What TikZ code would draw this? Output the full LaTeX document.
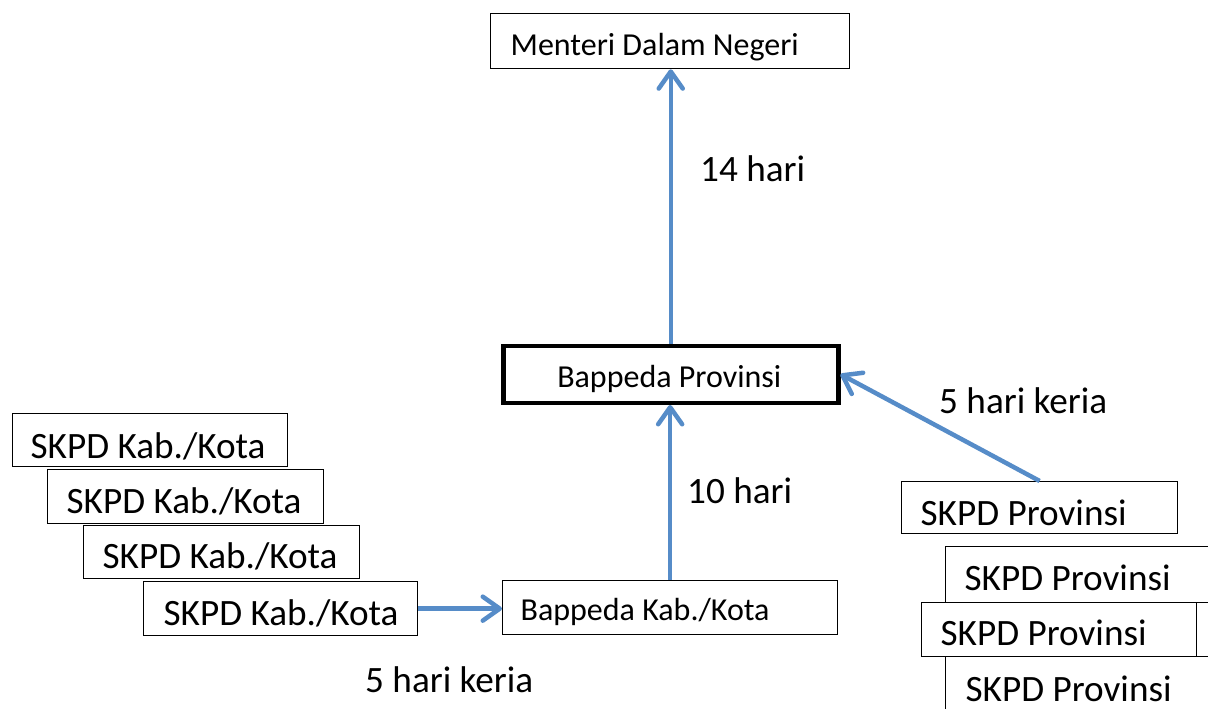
\documentclass[tikz,border=0pt]{standalone}
\usepackage{fontspec}
\setmainfont{Carlito}
\usetikzlibrary{arrows.meta}
\definecolor{arr}{RGB}{86,140,200}
\newcommand\bxt[3]{\makebox[#1pt][l]{\hspace{#2pt}#3}}
\begin{document}
\begin{tikzpicture}[x=1pt,y=-1pt,
  box/.style={draw=black, line width=1.3pt, fill=white, inner sep=0pt, anchor=north west},
  big/.style={font=\fontsize{37.2}{40}\selectfont},
  small/.style={font=\fontsize{32}{36}\selectfont},
  lbl/.style={big, inner sep=0pt, anchor=base west},
  flow/.style={draw=arr, line width=4.5pt, -{Straight Barb[length=17pt,width=24pt,round]}}]
\useasboundingbox (0,0) rectangle (1208,709);
\clip (0,0) rectangle (1208,709);

\node[box, small, text height=42pt, text depth=13pt] (mdn) at (490,13) {\bxt{359}{20}{Menteri Dalam Negeri}};
\node[box, small, line width=4.5pt, text height=41.5pt, text depth=15.5pt] (bp) at (501,343.5) {\bxt{335}{54}{Bappeda Provinsi}};
\node[box, small, text height=40pt, text depth=14pt] (bk) at (502,580) {\bxt{335}{18}{Bappeda Kab./Kota}};

\node[box, big, text height=44.5pt, text depth=8.5pt] (k1) at (12,413) {\bxt{275}{18}{SKPD Kab./Kota}};
\node[box, big, text height=44pt, text depth=10pt] (k2) at (47,469) {\bxt{276}{19}{SKPD Kab./Kota}};
\node[box, big, text height=43pt, text depth=10pt] (k3) at (83,525) {\bxt{276}{19}{SKPD Kab./Kota}};
\node[box, big, text height=44pt, text depth=10pt] (k4) at (143,581) {\bxt{274}{20}{SKPD Kab./Kota}};

\node[box, big, text height=44pt, text depth=8pt] (pa) at (901,481) {\bxt{276}{19}{SKPD Provinsi}};
\node[box, big, text height=44pt, text depth=12pt] (pb) at (945,546) {\bxt{300}{19}{SKPD Provinsi}};
\node[box, big, text height=45pt, text depth=15pt] (pd) at (945,656) {\bxt{300}{20}{SKPD Provinsi}};
\node[box, big, text height=43pt, text depth=11pt] (pc) at (921,602) {\bxt{275}{19}{SKPD Provinsi}};

\draw[flow] (bp.north) -- (bp.north |- mdn.south);
\draw[flow] (bk.north) -- (bk.north |- bp.south);
\draw[flow] (k4.east) -- (k4.east -| bk.west);
\draw[flow] (pa.north) -- (bp.east);

\node[lbl] (l14) at (700,181) {14 hari};
\node[lbl] (l10) at (687,503) {10 hari};
\node[lbl] (l5a) at (939,413) {5 hari keria};
\node[lbl] (l5b) at (365,692) {5 hari keria};
\end{tikzpicture}
\end{document}
